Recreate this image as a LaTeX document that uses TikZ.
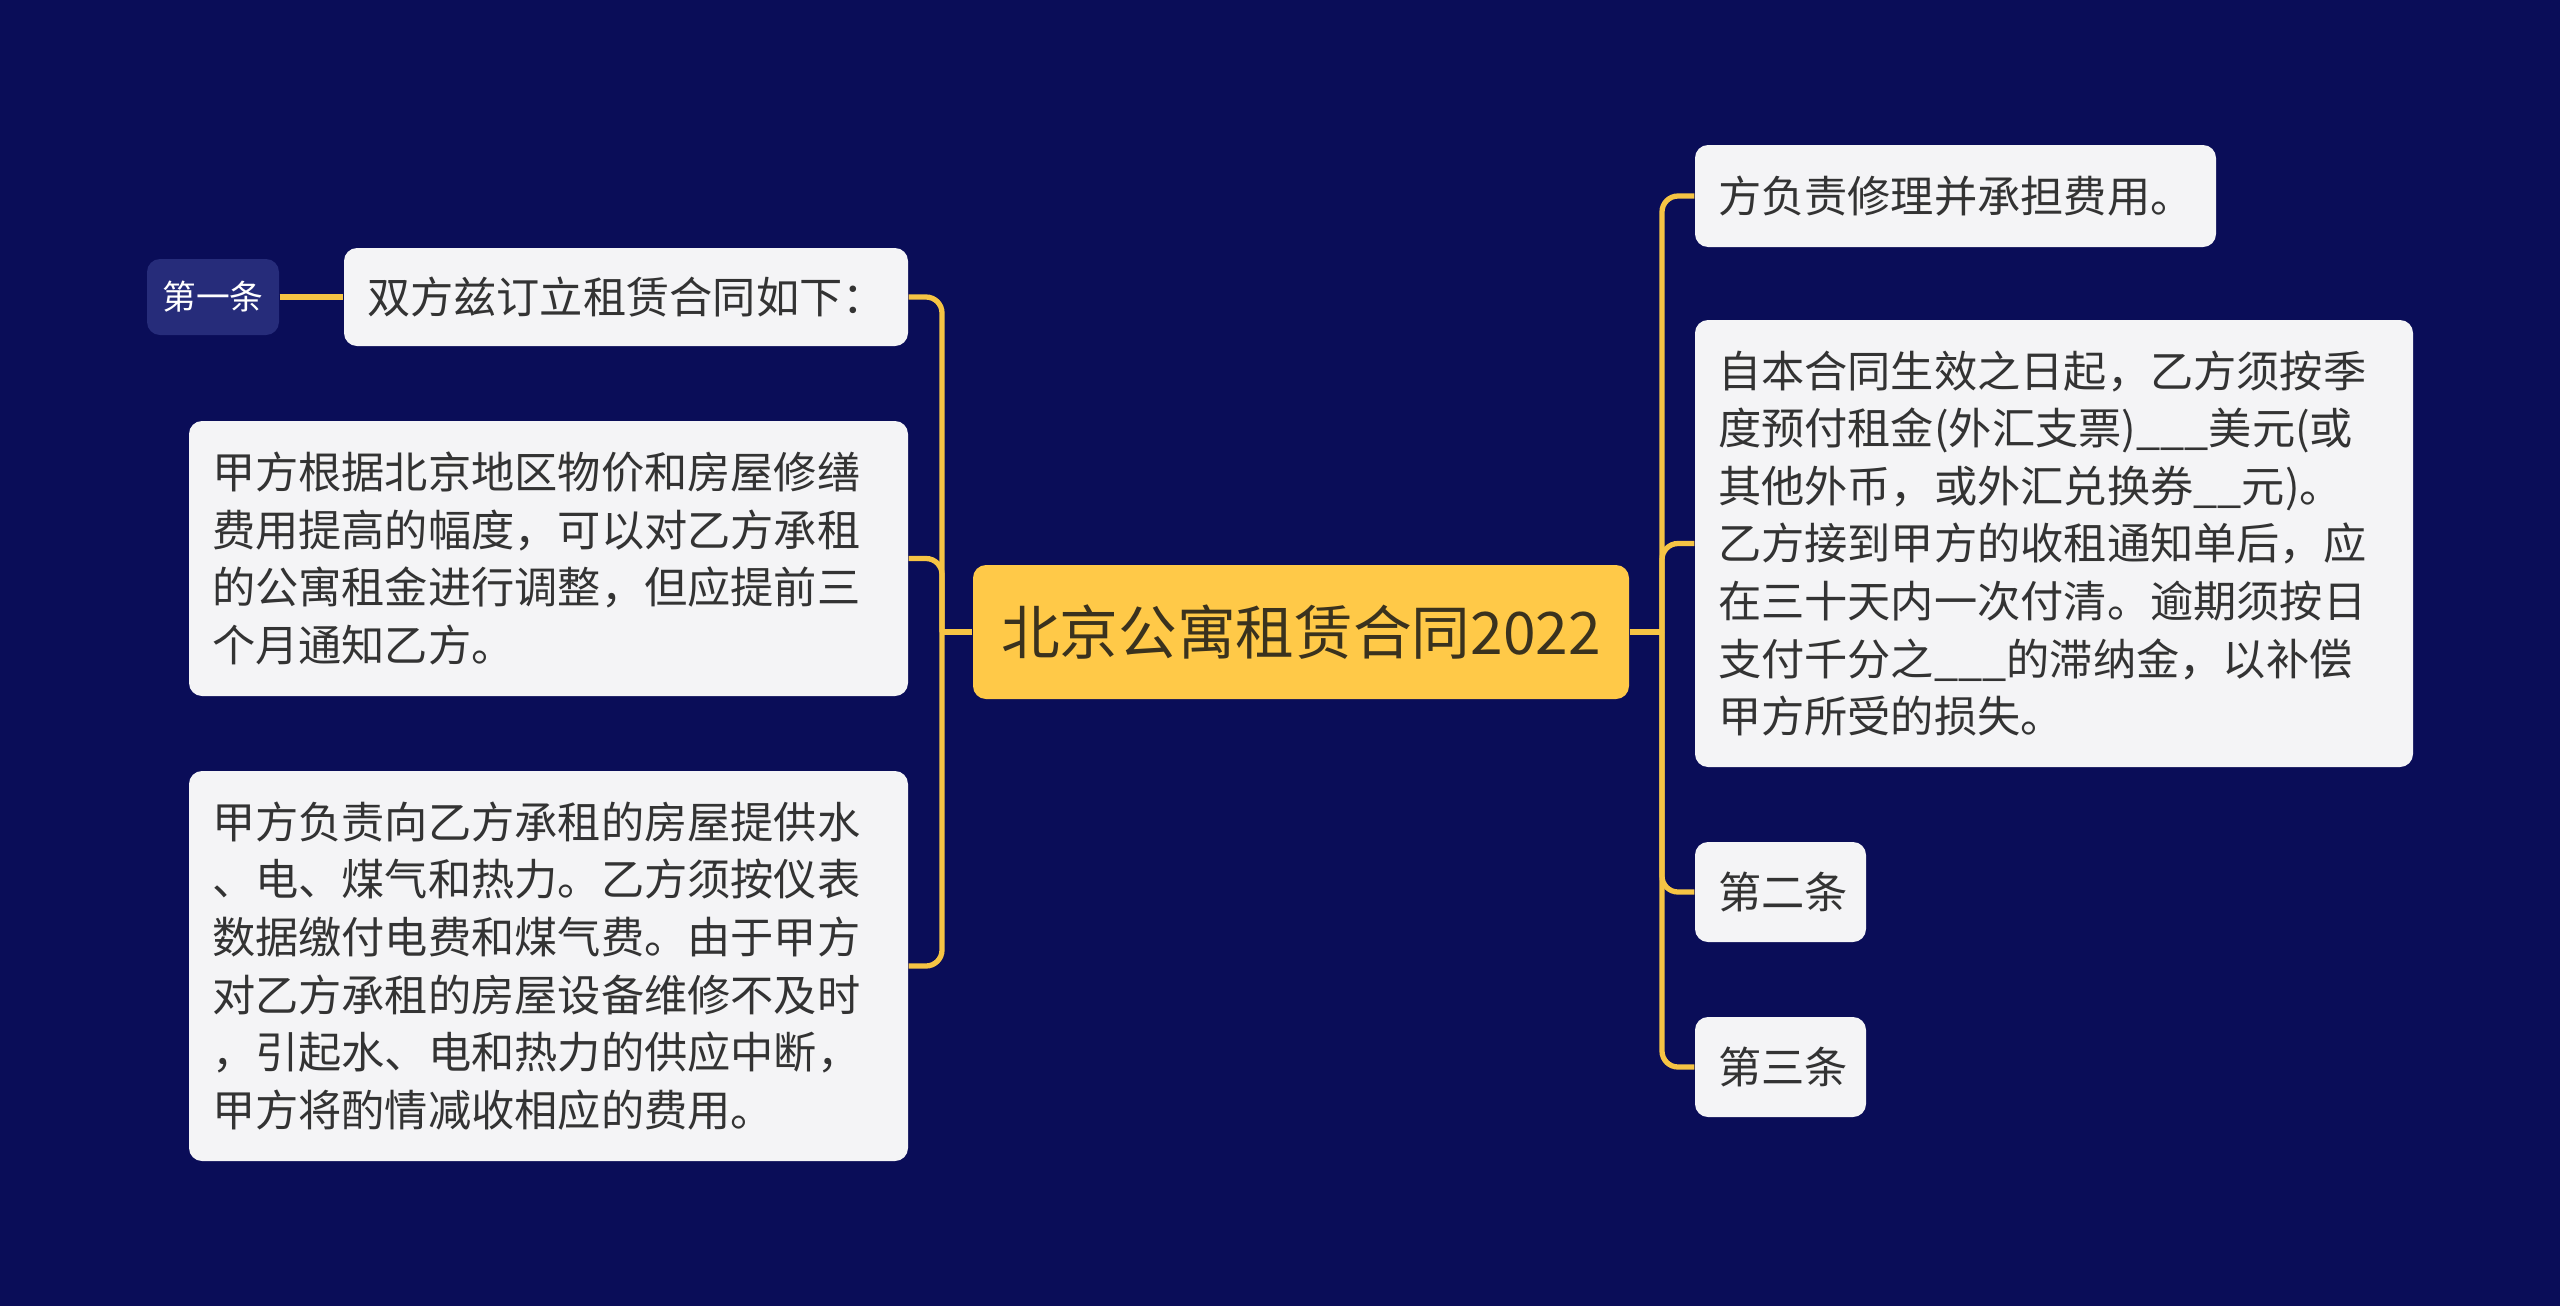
\documentclass[tikz,border=0pt]{standalone}
\usepackage{fontspec}
\newfontfamily\cjk{Noto Sans CJK SC}
\definecolor{bgnavy}{RGB}{10,13,88}
\definecolor{linegold}{RGB}{246,196,68}
\definecolor{rootgold}{RGB}{255,201,72}
\definecolor{boxgray}{RGB}{244,244,246}
\definecolor{tagblue}{RGB}{38,44,122}
\definecolor{textdark}{RGB}{51,51,51}
\definecolor{roottext}{RGB}{58,50,30}
\begin{document}
\begin{tikzpicture}[x=0.1mm, y=-0.1mm,
  leaf/.style={fill=boxgray, text=textdark, rounded corners=1.3mm, font=\cjk\fontsize{12.3}{16.4}\selectfont, align=left, inner xsep=2.3mm, inner ysep=0pt},
  rootbox/.style={fill=rootgold, text=roottext, rounded corners=1.3mm, font=\cjk\fontsize{16.7}{20}\selectfont, minimum width=65.6mm, minimum height=13.4mm, inner sep=0pt},
  tagbox/.style={fill=tagblue, text=white, rounded corners=1.3mm, font=\cjk\fontsize{9.6}{12}\selectfont, minimum width=13.2mm, minimum height=7.6mm, inner sep=0pt},
  link/.style={draw=linegold, line width=1.5pt},
  elbow/.style={link, rounded corners=1.6mm}]

\fill[bgnavy] (0,0) rectangle (2560,1306);

% centre
\node[rootbox] (root) at (1301,632) {北京公寓租赁合同2022};

% left side
\node[leaf, text width=51.8mm, minimum height=9.8mm] (l1) at (626,297) {双方兹订立租赁合同如下：};
\node[leaf, text width=67.3mm, minimum height=27.5mm] (l2) at (548.5,558.5) {甲方根据北京地区物价和房屋修缮\\费用提高的幅度，可以对乙方承租\\的公寓租金进行调整，但应提前三\\个月通知乙方。};
\node[leaf, text width=67.3mm, minimum height=39mm] (l3) at (548.5,966) {甲方负责向乙方承租的房屋提供水\\、电、煤气和热力。乙方须按仪表\\数据缴付电费和煤气费。由于甲方\\对乙方承租的房屋设备维修不及时\\，引起水、电和热力的供应中断，\\甲方将酌情减收相应的费用。};
\node[tagbox] (t1) at (213,297) {第一条};

% right side
\node[leaf, text width=47.5mm, minimum height=10.2mm] (r1) at (1955.5,196) {方负责修理并承担费用。};
\node[leaf, text width=67.2mm, minimum height=44.7mm] (r2) at (2054,543.5) {自本合同生效之日起，乙方须按季\\度预付租金(外汇支票)\_\_\_美元(或\\其他外币，或外汇兑换券\_\_元)。\\乙方接到甲方的收租通知单后，应\\在三十天内一次付清。逾期须按日\\支付千分之\_\_\_的滞纳金，以补偿\\甲方所受的损失。};
\node[leaf, text width=12.5mm, minimum height=10mm] (r3) at (1780.5,892) {第二条};
\node[leaf, text width=12.5mm, minimum height=10mm] (r4) at (1780.5,1067) {第三条};

% connectors
\coordinate (lj) at (942,632);
\coordinate (rj) at (1662,632);
\draw[link] (root.west) -- (lj);
\draw[link] (root.east) -- (rj);
\draw[elbow] (lj) |- (l1.east);
\draw[elbow] (lj) |- (l2.east);
\draw[elbow] (lj) |- (l3.east);
\draw[link] (t1.east) -- (l1.west);
\draw[elbow] (rj) |- (r1.west);
\draw[elbow] (rj) |- (r2.west);
\draw[elbow] (rj) |- (r3.west);
\draw[elbow] (rj) |- (r4.west);
\end{tikzpicture}
\end{document}
